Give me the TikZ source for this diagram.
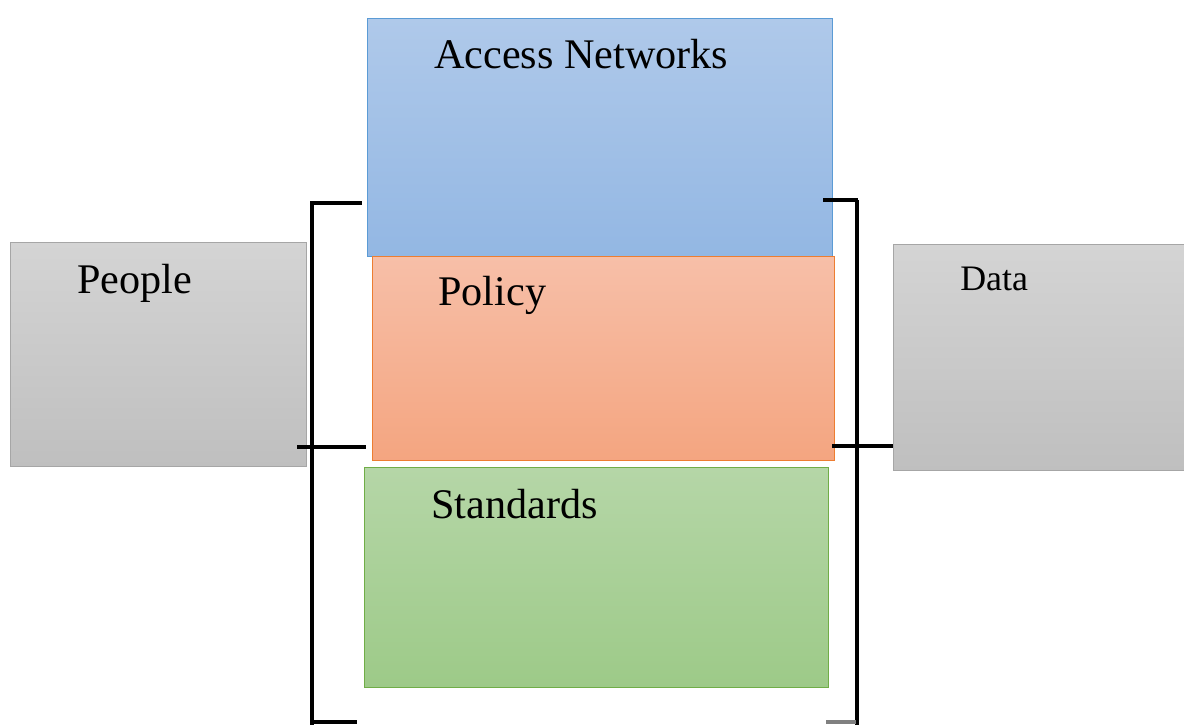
\documentclass[tikz,border=0pt]{standalone}
\usepackage{fontspec}
\setmainfont{Liberation Serif}
\usepackage{tikz}
\usetikzlibrary{positioning}

\definecolor{netTop}{HTML}{AFC9EA}
\definecolor{netBot}{HTML}{93B7E3}
\definecolor{netLine}{HTML}{5B9BD5}
\definecolor{polTop}{HTML}{F7BFA8}
\definecolor{polBot}{HTML}{F4A580}
\definecolor{polLine}{HTML}{ED7D31}
\definecolor{stdTop}{HTML}{B5D6A7}
\definecolor{stdBot}{HTML}{9DCA88}
\definecolor{stdLine}{HTML}{70AD47}
\definecolor{grayTop}{HTML}{D4D4D4}
\definecolor{grayBot}{HTML}{BFBFBF}
\definecolor{grayLine}{HTML}{A6A6A6}

\begin{document}
\begin{tikzpicture}[x=0.025cm, y=-0.025cm,
  box/.style={rectangle, anchor=north west, inner sep=0pt, line width=0.8pt},
  netbox/.style={box, draw=netLine, top color=netTop, bottom color=netBot},
  polbox/.style={box, draw=polLine, top color=polTop, bottom color=polBot},
  stdbox/.style={box, draw=stdLine, top color=stdTop, bottom color=stdBot},
  graybox/.style={box, draw=grayLine, top color=grayTop, bottom color=grayBot},
  lbl/.style={anchor=base west, inner sep=0pt, font=\fontsize{30}{36}\selectfont},
  brace/.style={line width=2.8pt, black}]
\useasboundingbox (0,0) rectangle (1184,724);
\clip (0,0) rectangle (1184,724);

% 中间三层
\node[netbox, minimum width=11.625cm, minimum height=5.95cm] (access) at (367,18) {};
\node[polbox, minimum width=11.55cm, minimum height=5.1cm] (policy) at (372,256) {};
\node[stdbox, minimum width=11.6cm, minimum height=5.5cm] (standards) at (364,467) {};

% 两侧
\node[graybox, minimum width=7.4cm, minimum height=5.6cm] (people) at (10,242) {};
\node[graybox, minimum width=7.4cm, minimum height=5.65cm] (data) at (893,244) {};

% 文字
\node[lbl] (accesstxt) at (434,68) {Access Networks};
\node[lbl] (policytxt) at (438,305) {Policy};
\node[lbl] (standardstxt) at (431,518) {Standards};
\node[lbl] (peopletxt) at (77,293) {People};
\node[lbl, font=\fontsize{25.5}{30}\selectfont] (datatxt) at (960,290) {Data};

% 左括号
\coordinate (lt) at (312,203);
\coordinate (lb) at (312,730);
\draw[brace] (lt) -- (lb);
\draw[brace] (310,203) -- (362,203);
\draw[brace] (297,447) -- (366,447);
\draw[brace] (312,722) -- (357,722);

% 右括号
\coordinate (rt) at (857,200);
\coordinate (rb) at (857,730);
\draw[brace] (rt) -- (rb);
\draw[brace] (823,200) -- (858,200);
\draw[brace] (832,446) -- (893,446);
\draw[brace, gray] (826,722) -- (856,722);
\end{tikzpicture}
\end{document}
